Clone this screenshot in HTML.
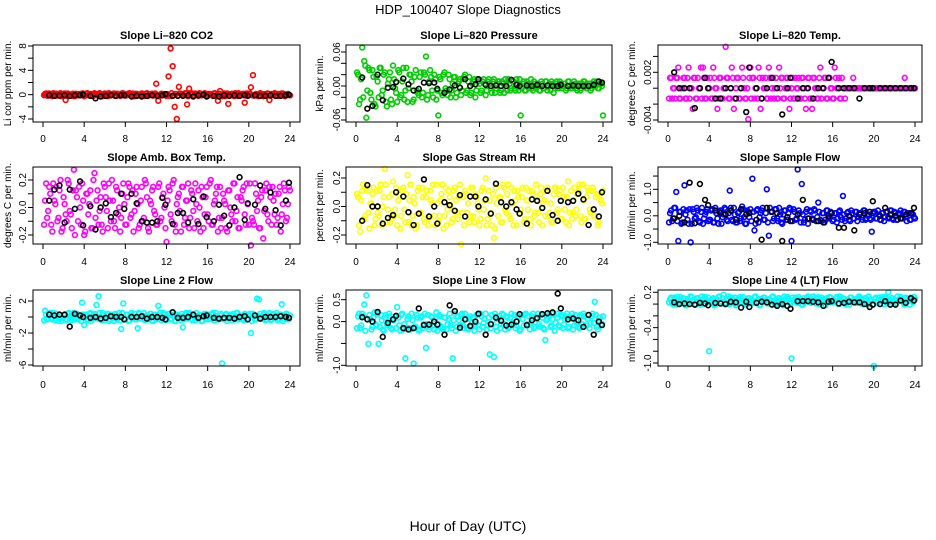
<!DOCTYPE html>
<html><head><meta charset="utf-8"><title>HDP_100407 Slope Diagnostics</title>
<style>
html,body{margin:0;padding:0;background:#fff;}
svg{display:block;font-family:"Liberation Sans",Arial,sans-serif;}
</style></head>
<body>
<svg id="chart" width="936" height="540" viewBox="0 0 936 540" xmlns="http://www.w3.org/2000/svg">
<text x="468" y="14" font-size="13" text-anchor="middle">HDP_100407  Slope Diagnostics</text>
<text x="468" y="531" font-size="14" text-anchor="middle">Hour of Day (UTC)</text>
</svg>
<script>
const hours=[0.2,0.4,0.6,0.8,1.0,1.2,1.4,1.6,1.8,2.0,2.2,2.4,2.6,2.8,3.0,3.2,3.4,3.6,3.8,4.0,4.2,4.4,4.6,4.8,5.0,5.2,5.4,5.6,5.8,6.0,6.2,6.4,6.6,6.8,7.0,7.2,7.4,7.6,7.8,8.0,8.2,8.4,8.6,8.8,9.0,9.2,9.4,9.6,9.8,10.0,10.2,10.4,10.6,10.8,11.0,11.2,11.4,11.6,11.8,12.0,12.2,12.4,12.6,12.8,13.0,13.2,13.4,13.6,13.8,14.0,14.2,14.4,14.6,14.8,15.0,15.2,15.4,15.6,15.8,16.0,16.2,16.4,16.6,16.8,17.0,17.2,17.4,17.6,17.8,18.0,18.2,18.4,18.6,18.8,19.0,19.2,19.4,19.6,19.8,20.0,20.2,20.4,20.6,20.8,21.0,21.2,21.4,21.6,21.8,22.0,22.2,22.4,22.6,22.8,23.0,23.2,23.4,23.6,23.8,24.0];
const hours2=[0.1,0.3,0.5,0.7,0.9,1.1,1.3,1.5,1.7,1.9,2.1,2.3,2.5,2.7,2.9,3.1,3.3,3.5,3.7,3.9,4.1,4.3,4.5,4.7,4.9,5.1,5.3,5.5,5.7,5.9,6.1,6.3,6.5,6.7,6.9,7.1,7.3,7.5,7.7,7.9,8.1,8.3,8.5,8.7,8.9,9.1,9.3,9.5,9.7,9.9,10.1,10.3,10.5,10.7,10.9,11.1,11.3,11.5,11.7,11.9,12.1,12.3,12.5,12.7,12.9,13.1,13.3,13.5,13.7,13.9,14.1,14.3,14.5,14.7,14.9,15.1,15.3,15.5,15.7,15.9,16.1,16.3,16.5,16.7,16.9,17.1,17.3,17.5,17.7,17.9,18.1,18.3,18.5,18.7,18.9,19.1,19.3,19.5,19.7,19.9,20.1,20.3,20.5,20.7,20.9,21.1,21.3,21.5,21.7,21.9,22.1,22.3,22.5,22.7,22.9,23.1,23.3,23.5,23.7,23.9];
const blackHours=[0.6,1.1,1.6,2.1,2.6,3.1,3.6,3.9,4.6,5.1,5.6,6.1,6.6,7.1,7.6,7.9,8.6,9.1,9.6,10.1,10.6,11.1,11.6,11.9,12.6,13.1,13.6,14.1,14.6,15.1,15.6,15.9,16.6,17.1,17.6,18.1,18.6,19.1,19.6,19.9,20.6,21.1,21.6,22.1,22.6,23.1,23.6,23.9];
const xTicks=[0,4,8,12,16,20,24];

const co2Scale=0.04;
const co2Vals=[3,-4,5,-2,6,-5,1,4,-6,2,-22,5,-1,-5,2,4,-3,0,5,-6,4,-2,3,-5,6,1,-4,3,-6,5,-1,6,-3,2,-5,4,0,-3,5,-4,3,6,-2,-6,4,1,-4,5,-3,4,-5,2,4,-1,45,-25,-3,3,0,-5,75,190,117,-50,-100,32,4,-2,6,-40,25,3,-6,5,-2,6,-3,0,4,-5,3,-2,5,-4,-25,15,-6,5,-1,-38,-3,4,-5,2,6,-4,3,-33,5,-2,30,80,-3,2,-5,4,-6,0,5,-22,3,-1,4,-5,2,5,-2,-4,3,-3];
const co2Vals2=[-2,5,-4,3,-6,1,4,-3,6,-1,5,-5,2,-3,4,-6,0,3,-2,5,-4,6,-1,2,-5,3,-3,6,-2,1,4,-6,3,-1,5,-4,2,-5,6,0,-3,4,-2,5,-6,3,1,-4,2,-5,6,-1,3,-4,5,-2,-6,4,1,-3,2,-5,6,-2,3,-4,5,-1,-3,4,-6,2,5,-3,1,-5,4,-2,6,-4,3,-1,-5,6,-2,4,-3,2,-6,5,-1,3,-4,6,-5,2,0,4,-3,1,5,-2,-4,3,-6,6,-1,2,-3,4,-5,1,6,-4,3,-2,5,-6,2,-1];
const co2Black=[-0.1,-0.2,-0.15,-0.1,-0.2,-0.1,-0.1,0,-0.2,-0.6,-0.3,-0.2,-0.1,-0.2,-0.1,-0.1,-0.3,-0.2,-0.3,-0.2,-0.1,-0.2,-0.1,0.1,-0.2,-0.2,-0.2,-0.1,-0.3,-0.1,0,-0.3,-0.2,-0.3,-0.1,-0.2,-0.1,-0.2,-0.1,-0.2,-0.1,-0.2,-0.2,-0.1,-0.2,-0.2,-0.1,0];
const co2Ticks=[-4,-2,0,2,4,6,8];
const co2Labels=["-4","","0","","4","","8"];

const presScale=0.004;
const presVals=[5,-6,17,11,-14,8,-3,7,-8,4,-5,8,-2,6,-9,3,-6,9,-1,-7,6,-4,8,-2,-7,5,2,-6,7,-3,4,-5,6,13,-4,7,-2,5,-6,-13,3,-4,6,-2,5,-5,1,4,-3,2,-4,3,5,-2,4,-3,2,-5,3,1,-2,3,-4,2,1,-3,3,-1,2,-3,2,-3,1,3,-2,2,-1,3,-2,-13,1,-2,2,-1,3,-2,1,0,-2,2,-1,2,-2,1,2,-3,1,-1,2,-1,1,-2,2,0,-1,2,-1,1,-2,1,2,-1,1,-2,1,0,2,-1,1,-13];
const presVals2=[6,-8,3,-5,9,-2,7,-6,4,-9,2,8,-4,5,-7,1,6,-8,3,-3,7,-5,2,-6,8,-1,5,-7,4,-2,-4,6,-3,5,-6,2,4,-5,3,-2,4,-3,5,-1,-4,3,-2,4,-5,1,3,-2,4,-3,2,-4,1,3,-2,2,-3,2,1,-2,3,-1,2,-3,1,2,-2,1,3,-2,1,-1,2,-2,1,3,-1,2,-2,1,0,-1,2,-1,1,-2,1,-1,2,0,-2,1,-1,2,-1,1,0,1,-1,2,-1,0,1,-2,1,-1,2,0,-1,1,-1,2,0,-1,1,0];
const presBlack=[0.015,-0.04,-0.035,0.02,-0.025,-0.003,-0.002,0.007,0.013,0.003,-0.008,-0.005,0.006,0.005,0.006,-0.005,-0.012,-0.006,0.001,-0.003,0.012,0.0,0.003,0.012,0.002,0.0,0.001,0.0,0.0,0.011,0.002,0.0,0.001,0.0,0.002,0.0,0.001,0.0,0.0,0.002,0.0,0.001,0.0,0.0,0.0,0.002,0.008,0.006];
const presTicks=[-0.06,-0.04,-0.02,0,0.02,0.04,0.06];
const presLabels=["-0.06","","","0.00","","","0.06"];

const tempScale=0.0013;
const tempVals=[1,-1,0,1,2,-1,0,1,-1,2,0,-2,1,-1,0,2,2,-1,1,0,-1,2,0,-2,1,-1,0,4,1,-1,2,-2,0,1,-1,2,0,-1,-3,2,1,-1,0,2,-2,1,0,-1,2,-1,1,0,-1,2,1,-1,0,1,-2,0,-1,1,0,-1,1,0,-2,1,-1,-2,1,0,-1,2,0,1,-1,1,0,-1,2,0,1,-1,0,-1,0,0,0,1,0,0,0,0,0,0,0,0,0,0,0,0,0,0,0,0,0,0,0,0,0,0,0,0,1,0,0,0,0,0];
const tempVals2=[-1,1,0,-1,1,-1,0,1,-1,1,-1,0,1,-1,1,0,-1,1,-1,0,1,-1,1,0,-1,1,-1,0,1,-1,0,1,-1,1,-1,0,1,-1,0,1,-1,1,0,-1,1,-1,0,1,-1,1,0,-1,1,-1,0,1,-1,1,0,-1,1,-1,0,1,-1,1,-1,0,1,-1,1,0,-1,1,-1,0,1,-1,1,0,-1,1,0,-1,1,0,0,0,0,0,0,0,0,0,0,0,0,0,0,0,0,0,0,0,0,0,0,0,0,0,0,0,0,0,0,0,0,0,0,0];
const tempBlack=[0.002,0,0,0,-0.0025,0,0.0013,0,-0.0013,-0.0013,0,0,-0.0013,0,-0.003,0.0026,0,-0.0013,0,0.0013,0,-0.0033,0,0.0013,-0.0013,0,0,-0.0013,0,0,0.0013,0.0033,0,0,0,0,-0.0013,0,0,0,0,0,0,0,0,0,0,0];
const tempTicks=[-0.004,-0.002,0,0.002,0.004];
const tempLabels=["-0.004","","","0.002",""];

const ambScale=0.025;
const ambVals=[2,-3,6,-5,7,1,-4,5,-7,3,-2,8,-1,-6,11,5,-4,0,7,-8,4,-2,5,-6,10,2,-5,3,-7,6,-1,7,-4,2,-6,5,0,-3,7,-5,3,6,-2,-7,4,1,-5,6,-3,7,-6,2,5,-1,-5,6,-4,3,0,-10,6,-2,7,-5,1,4,-7,6,-3,2,-6,5,-1,7,-4,0,6,-6,3,-2,7,-5,1,4,-7,6,-3,2,-6,5,0,-4,7,-1,-6,3,5,-2,7,-5,-11,-4,7,-1,-6,3,-9,5,-2,6,-5,2,4,-3,6,-2,7,-4,1,5];
const ambVals2=[-5,7,-1,4,-7,2,6,-3,8,-6,1,-4,7,-2,5,-8,3,6,-5,2,-7,4,1,-6,8,-3,5,-1,-5,7,3,-6,2,8,-4,6,-2,-7,4,1,-5,7,-3,5,-1,6,-6,2,-4,8,3,-7,1,6,-2,-5,7,-3,4,-6,2,5,-4,8,-7,3,-1,6,-5,2,7,-3,4,-6,1,5,-7,3,-2,6,-4,8,-5,2,6,-3,-6,4,1,-7,5,-2,7,-4,3,-6,2,6,-5,1,7,-3,-5,4,2,-6,5,-1,7,-4,3,6,-2,-5,4,-7,1,5,-3,6];
const ambBlack=[0.05,0.13,0.16,-0.11,0.13,-0.01,0.19,-0.13,0.01,-0.16,0.0,0.03,-0.07,-0.04,0.1,-0.01,0.1,0.03,-0.1,-0.11,-0.11,-0.1,0.07,0.02,-0.12,-0.04,-0.04,-0.11,0.06,-0.12,0.08,-0.07,-0.1,0.02,-0.06,-0.13,0.0,0.22,-0.09,0.03,0.02,0.16,-0.01,0.11,-0.02,-0.13,0.05,0.18];
const ambTicks=[-0.2,-0.1,0,0.1,0.2];
const ambLabels=["-0.2","","0.0","","0.2"];

const rhScale=0.022;
const rhVals=[3,-8,5,-4,6,-2,1,4,-6,5,-3,7,0,12,-5,3,-4,8,-1,-6,4,-3,6,-5,10,2,-6,3,-7,5,-2,6,-4,3,-6,5,1,-3,7,-5,2,7,-3,-6,5,0,-4,6,-2,3,-12,3,5,-2,-5,6,-3,4,1,-6,5,-1,9,-4,2,-6,-10,6,-3,3,-5,6,-2,7,-4,1,5,-6,3,-1,6,-4,2,5,-6,4,-2,3,-5,6,1,-3,6,-2,-5,4,6,-1,5,-4,3,-5,8,-2,-4,6,-1,5,-3,7,-4,3,5,-2,6,-3,4,-5,2,5];
const rhVals2=[4,-6,2,7,-3,5,-7,1,6,-4,-2,5,-6,3,7,-1,-5,4,-3,6,2,-7,5,-1,4,-5,7,-3,1,-6,6,-2,3,-5,5,-4,2,7,-6,1,-3,4,-7,6,-1,3,-5,5,2,-4,7,-2,-6,4,1,-3,6,-5,3,-1,-4,6,2,-6,5,-2,4,-7,1,3,-5,7,-1,4,-3,6,-6,2,5,-2,3,-5,6,-1,-4,5,-3,7,-2,4,-6,2,5,-3,1,-5,6,-2,4,-4,6,-1,3,-6,5,-2,-3,4,7,-5,2,-4,6,-1,5,-3,3,-6,4,1];
const rhBlack=[-0.1,0.15,0.0,0.0,-0.12,-0.08,-0.06,0.1,0.07,-0.04,-0.13,-0.05,0.19,-0.07,0.0,-0.12,0.03,0.01,-0.03,0.08,-0.07,0.07,0.07,0.0,0.05,-0.05,0.16,0.03,0.0,0.03,-0.02,-0.05,-0.12,0.05,0.04,-0.01,0.11,-0.06,-0.1,0.04,0.03,0.04,0.09,0.05,-0.13,-0.02,-0.07,0.1];
const rhTicks=[-0.2,-0.1,0,0.1,0.2];
const rhLabels=["-0.2","","0.0","","0.2"];

const flowScale=0.05;
const flowVals=[2,-4,6,18,-19,3,-5,23,4,-6,-20,5,-2,6,-4,3,-6,1,5,-3,4,-5,6,-2,3,-6,1,5,-4,19,-3,6,-5,2,-4,7,-1,-6,3,5,28,-11,4,-5,2,6,-3,20,-15,3,-4,5,-2,6,-5,1,4,-3,6,-19,5,-3,35,2,24,-5,3,-6,4,-2,5,-4,10,-3,2,-5,4,-2,3,-4,2,-5,3,-1,15,-4,2,-3,4,-2,3,-4,2,-1,4,-3,1,-2,-12,3,-2,4,-3,2,-4,3,-1,4,-2,3,-3,2,4,-2,3,-4,2,-3,1,-2];
const flowVals2=[-5,4,-2,6,-4,3,-6,5,1,-3,5,-6,3,-1,4,-5,6,-2,3,-4,-3,5,-5,2,-6,4,-1,6,-3,2,6,-4,1,-5,3,-2,5,-6,4,-1,-4,3,-6,5,-1,4,-3,2,-5,6,3,-2,5,-4,1,-6,4,-3,2,5,-4,3,-2,4,-5,1,-3,5,-2,3,-3,4,-1,3,-4,2,-3,4,-1,2,-3,2,-2,4,-3,1,-2,3,-4,2,-2,3,-1,2,-3,4,-2,1,-3,2,3,-2,1,-3,2,-1,3,-2,4,-3,2,-3,1,-2,3,-1,2,-3,2,-1];
const flowBlack=[-0.1,0.0,-0.25,1.25,-0.28,1.2,0.6,0.4,0.2,0.1,0.05,0.2,-0.15,0.25,0.05,0.1,-0.15,-0.9,0.3,0.15,0.1,-0.95,-0.05,-0.2,0.05,0.6,-0.1,-0.15,-0.2,-0.25,0.0,0.1,-0.45,-0.45,0.0,-0.55,0.05,0.1,0.15,0.55,0.0,0.3,0.05,0.0,-0.1,0.05,0.1,0.3];
const flowTicks=[-1,-0.5,0,0.5,1,1.5];
const flowLabels=["-1.0","","0.0","","1.0",""];

const l2Scale=0.1;
const l2Vals=[8,-3,4,-2,5,-4,1,3,-5,2,-3,4,0,-4,5,2,-3,1,18,-10,3,-4,5,-2,4,15,26,-3,5,-4,2,-5,3,-1,4,-3,5,-15,17,-2,3,-4,5,-1,-3,-14,4,-2,5,-3,1,4,-4,2,-3,14,5,-2,3,-4,4,-3,2,-5,3,1,-4,-13,3,-2,5,-3,2,-4,1,3,-5,2,4,-3,-2,3,-4,5,-1,2,-58,-3,4,-2,3,-4,2,5,-3,1,-2,4,-3,2,-20,4,-3,23,22,-2,3,-4,2,5,-3,4,2,-4,3,16,-2,4,-3,2];
const l2Vals2=[-4,3,-2,5,-3,1,4,-5,2,-1,3,-4,5,-2,1,-3,4,-1,-5,3,2,-3,4,-5,1,3,-2,5,-4,2,-1,4,-3,2,-5,3,1,-4,5,-2,3,-5,2,-1,4,-3,5,-2,1,-4,2,-3,4,-5,3,-1,2,-4,5,-3,1,4,-2,3,-5,2,-1,4,-3,5,-2,3,-4,1,5,-3,2,-5,4,-1,3,-2,5,-4,1,-3,4,-2,3,-5,2,-1,4,-3,5,-2,1,-4,3,-2,4,-5,2,-3,1,4,-2,5,-3,2,-4,3,-1,5,-2,3,-5,2,4,-3];
const l2Black=[0.3,0.2,0.3,0.3,-1.2,0.4,0.2,0.0,-0.1,0.0,-0.2,-0.1,0.1,0.0,0.0,-0.3,0.0,0.0,0.1,-0.2,0.0,0.0,-0.1,-0.3,0.6,-0.1,-0.1,0.0,0.3,-0.1,0.1,0.2,-0.1,-0.2,-0.1,-0.1,-0.2,0.0,0.1,-0.3,0.2,-0.2,0.0,0.0,0.0,0.1,0.0,-0.1];
const l2Ticks=[-6,-4,-2,0,2];
const l2Labels=["-6","","-2","","2"];

const l3Scale=0.03;
const l3Vals=[4,-5,6,13,20,-17,2,-4,7,-3,-17,5,-6,3,-2,6,-5,1,4,11,-3,5,-6,-28,2,-5,6,-32,-4,3,-6,4,-2,-20,5,-4,3,-6,7,-2,4,-5,3,-6,2,-3,-28,6,-4,1,5,-3,6,-5,2,-4,3,-2,5,-6,4,-1,6,-3,-25,5,-27,-4,2,-5,6,-2,4,-5,3,-1,5,-3,4,-6,2,5,-3,4,-1,6,-4,3,-2,5,-5,-14,2,4,-3,6,-1,3,-4,5,-2,4,-5,3,6,-3,1,-4,5,-2,4,-3,5,-1,6,15,-4,3,-2,4];
const l3Vals2=[-5,6,-3,4,-7,2,5,-6,3,-2,6,-4,1,-7,5,-3,4,-6,2,-5,3,-7,6,-2,-5,4,-6,1,-4,5,-7,3,-5,6,-2,-6,4,-3,2,-7,5,-4,-6,3,-2,6,-5,1,-7,4,-3,6,-5,2,-6,4,-1,-7,5,-3,6,-4,2,-6,3,-5,1,6,-7,4,-2,5,-6,3,-4,6,-1,-5,4,-7,5,-3,6,-2,-6,4,-5,2,6,-4,3,-6,1,5,-4,2,-7,6,-3,4,-5,2,6,-4,3,-6,5,-2,-5,4,6,-3,2,-5,4,-1,5,-6,3,-2];
const l3Black=[0.1,0.05,0.0,0.22,-0.35,-0.03,0.05,0.13,-0.15,-0.18,-0.15,0.3,-0.08,-0.07,0.0,-0.07,-0.3,0.37,0.24,-0.14,0.05,-0.1,0.0,0.18,-0.3,-0.06,0.09,0.02,-0.09,-0.07,0.0,0.17,-0.08,0.03,0.08,0.17,0.19,0.21,0.64,0.3,0.05,0.07,0.03,-0.12,0.15,-0.3,0.0,-0.08];
const l3Ticks=[-1,-0.5,0,0.5];
const l3Labels=["-1.0","","0.0","0.5"];

const l4Scale=0.01;
const l4Vals=[8,2,11,-1,6,12,3,9,-2,7,13,4,0,10,5,-1,8,12,3,-80,6,10,-1,7,13,4,16,2,9,0,11,5,-2,8,12,3,7,-1,10,6,2,12,4,9,-1,7,11,3,8,5,13,0,6,10,4,-2,9,12,3,-92,7,11,2,8,-1,10,5,13,3,6,9,1,12,4,7,-2,10,6,11,3,5,12,0,8,10,3,7,-1,11,6,4,9,13,2,7,10,-1,8,5,-105,11,3,7,12,0,9,20,4,10,6,2,8,12,5,-1,9,6,11,3,8];
const l4Vals2=[3,11,-1,8,12,2,6,10,-2,9,4,12,7,-1,10,5,13,1,8,11,3,9,-2,6,12,4,10,0,7,13,2,8,11,-1,6,9,12,4,0,10,7,3,13,5,-2,9,11,6,1,8,12,4,-1,10,7,2,13,5,9,0,11,6,3,12,8,-1,4,10,7,2,13,5,9,0,11,6,-2,8,12,3,7,10,1,13,4,9,-1,6,11,5,8,2,12,7,0,10,4,13,6,-1,9,3,11,5,8,12,1,7,10,4,0,13,6,9,2,11,5,-1,8,12];
const l4Black=[0.03,0.0,0.01,0.0,-0.01,0.02,0.01,-0.02,0.02,0.01,0.0,0.04,0.03,-0.06,0.04,-0.05,0.02,0.04,0.03,-0.01,-0.03,0.0,-0.03,-0.08,0.05,0.05,0.05,0.04,0.03,-0.03,0.04,0.05,0.01,0.02,0.04,0.03,0.03,0.0,-0.05,-0.01,0.0,0.05,-0.01,-0.01,0.06,0.02,0.1,0.06];
const l4Ticks=[-1,-0.8,-0.6,-0.4,-0.2,0,0.2];
const l4Labels=["-1.0","","","-0.4","","","0.2"];

const NS="http://www.w3.org/2000/svg";
const svg=document.getElementById('chart');
function mk(tag,attrs,parent){const e=document.createElementNS(NS,tag);for(const k in attrs)e.setAttribute(k,attrs[k]);(parent||svg).appendChild(e);return e;}

const cols=[{bl:33,br:300,x0:43,x24:290,tl:23,yt:8},{bl:346,br:612,x0:356,x24:603,tl:337,yt:320},{bl:658,br:922,x0:668,x24:915,tl:648,yt:632}];
const rows=[{top:45,bot:122,title:35,xl:139},{top:167,bot:244,title:157,xl:262},{top:290,bot:366,title:280,xl:385}];

const panels=[
 {key:'co2',title:'Slope Li\u2013820 CO2',ylab:'Li cor ppm per min.',color:'#ff0000',vals:co2Vals,vals2:co2Vals2,scale:co2Scale,black:co2Black,ticks:co2Ticks,labels:co2Labels,ya:8,pa:46,yb:-4,pb:119},
 {key:'pressure',title:'Slope Li\u2013820 Pressure',ylab:'kPa per min.',color:'#00cc00',vals:presVals,vals2:presVals2,scale:presScale,black:presBlack,ticks:presTicks,labels:presLabels,ya:0.06,pa:52,yb:-0.06,pb:120},
 {key:'temp',title:'Slope Li\u2013820 Temp.',ylab:'degrees C per min.',color:'#ff00ff',vals:tempVals,vals2:tempVals2,scale:tempScale,black:tempBlack,ticks:tempTicks,labels:tempLabels,ya:0.002,pa:72.3,yb:-0.004,pb:120},
 {key:'amb-box-temp',title:'Slope Amb. Box Temp.',ylab:'degrees C per min.',color:'#ff00ff',vals:ambVals,vals2:ambVals2,scale:ambScale,black:ambBlack,ticks:ambTicks,labels:ambLabels,ya:0.2,pa:180,yb:-0.2,pb:235},
 {key:'gas-rh',title:'Slope Gas Stream RH',ylab:'percent per min.',color:'#ffff00',vals:rhVals,vals2:rhVals2,scale:rhScale,black:rhBlack,ticks:rhTicks,labels:rhLabels,ya:0.2,pa:178,yb:-0.2,pb:235},
 {key:'sample-flow',title:'Slope Sample Flow',ylab:'ml/min per min.',color:'#0000ff',vals:flowVals,vals2:flowVals2,scale:flowScale,black:flowBlack,ticks:flowTicks,labels:flowLabels,ya:1.0,pa:189.3,yb:-1.0,pb:242.3},
 {key:'line2-flow',title:'Slope Line 2 Flow',ylab:'ml/min per min.',color:'#00ffff',vals:l2Vals,vals2:l2Vals2,scale:l2Scale,black:l2Black,ticks:l2Ticks,labels:l2Labels,ya:2,pa:301,yb:-6,pb:365},
 {key:'line3-flow',title:'Slope Line 3 Flow',ylab:'ml/min per min.',color:'#00ffff',vals:l3Vals,vals2:l3Vals2,scale:l3Scale,black:l3Black,ticks:l3Ticks,labels:l3Labels,ya:0.5,pa:299.7,yb:-1.0,pb:365.3},
 {key:'line4-flow',title:'Slope Line 4 (LT) Flow',ylab:'ml/min per min.',color:'#00ffff',vals:l4Vals,vals2:l4Vals2,scale:l4Scale,black:l4Black,ticks:l4Ticks,labels:l4Labels,ya:0.2,pa:292.3,yb:-1.0,pb:363}
];

panels.forEach((p,idx)=>{
 const c=cols[idx%3], r=rows[Math.floor(idx/3)];
 const xs=h=>c.x0+(h/24)*(c.x24-c.x0);
 const ys=v=>p.pa+(v-p.ya)*(p.pb-p.pa)/(p.yb-p.ya);
 const g=mk('g',{});
 
 
 const t=mk('text',{x:(c.bl+c.br)/2,y:r.title+4,'font-size':11,'font-weight':'bold','text-anchor':'middle'},g);
 t.textContent=p.title;
 
 
 const yl=mk('text',{x:0,y:0,'font-size':10,'text-anchor':'middle',transform:`translate(${c.yt+3},${(r.top+r.bot)/2}) rotate(-90)`},g);
 yl.textContent=p.ylab;
 
 
 const n2=Math.min(hours2.length,p.vals2.length);
 for(let i=0;i<n2;i++){
  const pt=mk('circle',{cx:xs(hours2[i]),cy:ys(p.vals2[i]*p.scale),r:2.4,fill:'none',stroke:p.color,'stroke-width':1.6},g);
  
  
 }
 const n=Math.min(hours.length,p.vals.length);
 for(let i=0;i<n;i++){
  const pt=mk('circle',{cx:xs(hours[i]),cy:ys(p.vals[i]*p.scale),r:2.4,fill:'none',stroke:p.color,'stroke-width':1.6},g);
  
  
 }
 const nb=Math.min(blackHours.length,p.black.length);
 for(let i=0;i<nb;i++){
  const pt=mk('circle',{cx:xs(blackHours[i]),cy:ys(p.black[i]),r:2.4,fill:'none',stroke:'#000','stroke-width':1.6},g);
  
  
 }
 const box=mk('rect',{x:c.bl,y:r.top,width:c.br-c.bl,height:r.bot-r.top,fill:'none',stroke:'#000','stroke-width':1},g);
 
 
 const xa=mk('line',{x1:xs(0),x2:xs(24),y1:r.bot,y2:r.bot,stroke:'#000'},g);
 
 
 xTicks.forEach(v=>{
  const tk=mk('line',{x1:xs(v),x2:xs(v),y1:r.bot,y2:r.bot+5,stroke:'#000'},g);
  
  
  const tl=mk('text',{x:xs(v),y:r.xl+3,'font-size':10,'text-anchor':'middle'},g);
  tl.textContent=String(v);
  
  
 });
 p.ticks.forEach((v,j)=>{
  const tk=mk('line',{x1:c.bl,x2:c.bl-5,y1:ys(v),y2:ys(v),stroke:'#000'},g);
  
  
  if(p.labels[j]){
   const tl=mk('text',{x:0,y:0,'font-size':10,'text-anchor':'middle',transform:`translate(${c.tl+3},${ys(v)}) rotate(-90)`},g);
   tl.textContent=p.labels[j];
   
   
  }
 });
});
</script>
</body></html>
